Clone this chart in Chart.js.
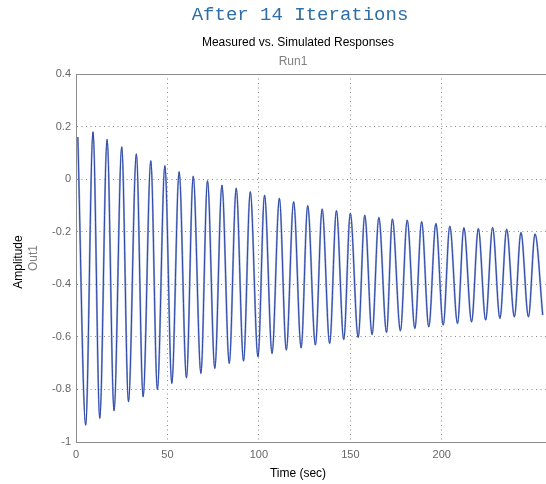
<!DOCTYPE html>
<html>
<head>
<meta charset="utf-8">
<script src="https://cdn.jsdelivr.net/npm/chart.js@4/dist/chart.umd.min.js"></script>
<style>
  body { margin: 0; background: #fff; overflow: hidden; }
  canvas { display: block; }
</style>
</head>
<body>
<canvas id="myChart" width="546" height="484"></canvas>
<script>
// peaks and troughs of the response (time in sec, amplitude)
const peakTimes = [1.0, 9.3, 17.0, 25.0, 33.0, 40.9, 48.6, 56.4, 64.1, 71.9, 79.8, 87.6, 95.3, 103.1, 111.2, 119.0, 126.7, 134.6, 142.4, 150.0, 157.9, 165.6, 173.0, 181.1, 189.0, 196.8, 204.4, 212.1, 220.0, 227.8, 235.5, 243.3, 251.0];
const peakValues = [0.16, 0.18, 0.151, 0.123, 0.096, 0.070, 0.051, 0.028, 0.011, -0.006, -0.023, -0.035, -0.048, -0.061, -0.073, -0.086, -0.101, -0.114, -0.12, -0.13, -0.137, -0.146, -0.152, -0.156, -0.162, -0.169, -0.179, -0.185, -0.188, -0.184, -0.191, -0.203, -0.209];
const troughTimes = [5.3, 13.0, 20.8, 28.7, 36.7, 44.5, 52.4, 60.4, 68.3, 75.9, 83.8, 91.6, 99.5, 107.2, 115.0, 123.1, 130.9, 138.7, 146.4, 154.3, 161.9, 169.8, 177.4, 185.3, 192.9, 200.8, 208.6, 216.3, 224.0, 231.8, 239.7, 247.4, 255.2];
const troughValues = [-0.936, -0.910, -0.881, -0.847, -0.828, -0.80, -0.777, -0.756, -0.739, -0.72, -0.701, -0.692, -0.676, -0.663, -0.650, -0.642, -0.631, -0.625, -0.61, -0.602, -0.591, -0.583, -0.577, -0.568, -0.562, -0.555, -0.549, -0.543, -0.536, -0.530, -0.524, -0.524, -0.517];

const xTicks = [0, 50, 100, 150, 200];
const yTicks = [0.4, 0.2, 0, -0.2, -0.4, -0.6, -0.8, -1];

// interleave peaks and troughs in time order
const response = [];
for (let i = 0; i < peakTimes.length; i++) {
    response.push({ x: peakTimes[i], y: peakValues[i] });
    response.push({ x: troughTimes[i], y: troughValues[i] });
}

const headerPlugin = {
    id: 'headerText',
    afterDraw(chart) {
        const { ctx, chartArea: { left, top, right, bottom } } = chart;
        ctx.save();
        // solid top frame line
        ctx.strokeStyle = '#8c8c8c';
        ctx.lineWidth = 1;
        ctx.beginPath();
        ctx.moveTo(left, top + 0.5);
        ctx.lineTo(right, top + 0.5);
        ctx.stroke();

        ctx.textAlign = 'center';
        ctx.textBaseline = 'middle';
        ctx.fillStyle = '#2e6ea8';
        ctx.font = '19px "Liberation Mono", "DejaVu Sans Mono", monospace';
        ctx.fillText('After 14 Iterations', 300, 15);

        ctx.fillStyle = '#000';
        ctx.font = '12px "Liberation Sans", Arial, sans-serif';
        ctx.fillText('Measured vs. Simulated Responses', 298, 43);
        ctx.fillStyle = '#808080';
        ctx.fillText('Run1', 293, 62);

        ctx.fillStyle = '#000';
        ctx.fillText('Time (sec)', 298, 474);

        ctx.translate(19, 262);
        ctx.rotate(-Math.PI / 2);
        ctx.fillText('Amplitude', 0, 0);
        ctx.fillStyle = '#808080';
        ctx.fillText('Out1', 4, 15);
        ctx.restore();
    }
};

new Chart(document.getElementById('myChart'), {
    type: 'line',
    plugins: [headerPlugin],
    data: {
        datasets: [{
            label: 'Measured',
            data: response,
            borderColor: '#9aabdb',
            borderWidth: 2,
            pointRadius: 0,
            cubicInterpolationMode: 'monotone',
            order: 2
        }, {
            label: 'Simulated',
            data: response,
            borderColor: '#2d47a6',
            borderWidth: 1,
            pointRadius: 0,
            cubicInterpolationMode: 'monotone',
            order: 1
        }]
    },
    options: {
        responsive: false,
        animation: false,
        layout: { padding: { top: 74, left: 0, right: 0, bottom: 0 } },
        plugins: {
            legend: { display: false },
            tooltip: { enabled: false }
        },
        scales: {
            x: {
                type: 'linear',
                min: 0,
                max: 257,
                afterFit(scale) { scale.height = 42; },
                afterBuildTicks(scale) { scale.ticks = xTicks.map(v => ({ value: v })); },
                ticks: {
                    color: '#666',
                    font: { size: 11, family: '"Liberation Sans", Arial, sans-serif' },
                    padding: 6,
                    maxRotation: 0
                },
                grid: { color: '#888', drawTicks: false, tickLength: 0 },
                border: { color: '#8c8c8c', width: 1, dash: [1, 3.5] }
            },
            y: {
                type: 'linear',
                min: -1,
                max: 0.4,
                afterFit(scale) { scale.width = 76; },
                afterBuildTicks(scale) { scale.ticks = yTicks.map(v => ({ value: v })); },
                ticks: {
                    color: '#666',
                    font: { size: 11, family: '"Liberation Sans", Arial, sans-serif' },
                    padding: 5,
                    callback: v => String(Math.round(v * 10) / 10)
                },
                grid: { color: '#888', drawTicks: false, tickLength: 0 },
                border: { color: '#8c8c8c', width: 1, dash: [1, 3.5] }
            }
        }
    }
});
</script>
</body>
</html>
